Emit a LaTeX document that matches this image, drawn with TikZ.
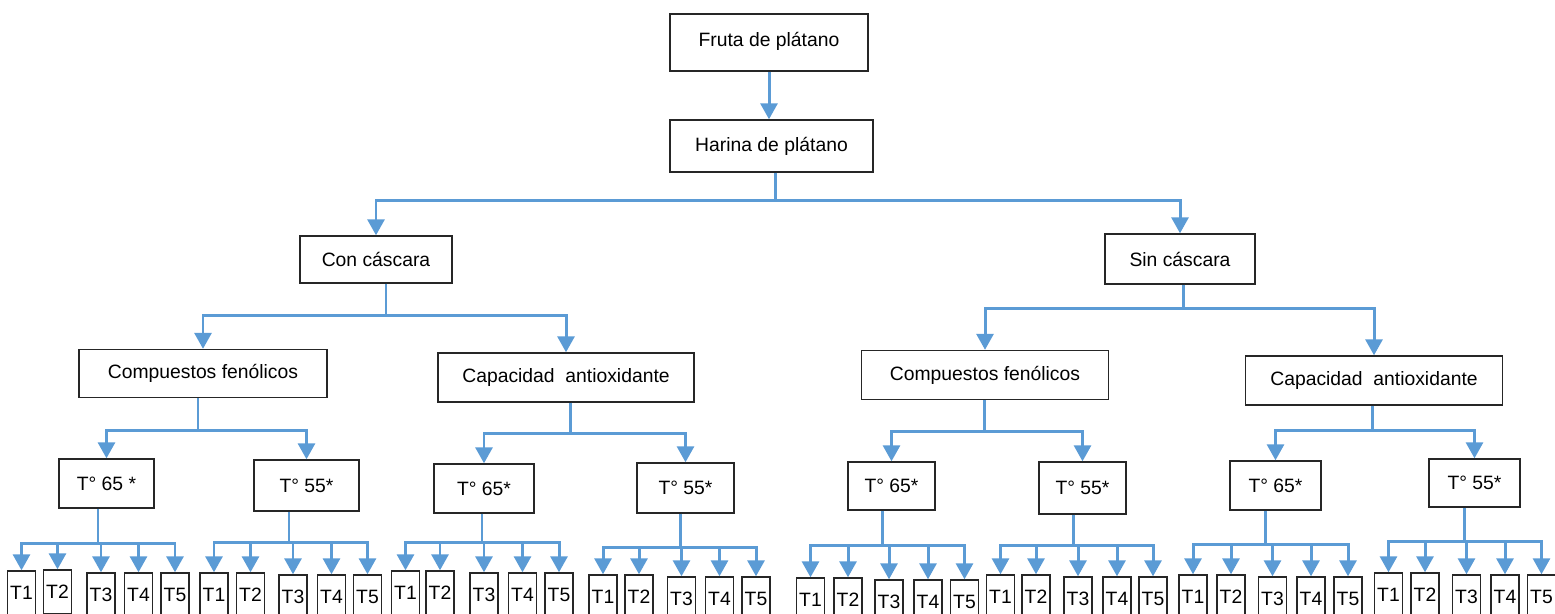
\documentclass[tikz,border=0pt]{standalone}
\usepackage{fontspec}
\setmainfont{Liberation Sans}
\usetikzlibrary{arrows.meta}
\definecolor{linkblue}{HTML}{5B9BD5}
\tikzset{
  box/.style={draw=black!85, line width=0.8pt, font=\fontsize{11}{13}\selectfont, inner sep=0pt},
  leaf/.style={box, minimum width=0.56cm, minimum height=0.88cm},
  link/.style={draw=linkblue, line width=1.7pt},
  arrow/.style={link, -{Triangle[width=0.34cm,length=0.32cm]}}
}
\begin{document}
\begin{tikzpicture}[x=0.02cm, y=-0.02cm]
\useasboundingbox (0,0) rectangle (1555,613);

\node[box, minimum width=3.96cm, minimum height=1.14cm] (fruta) at (769,42.5) {\raisebox{4pt}{Fruta de plátano}\hspace{8pt}};
\node[box, minimum width=4.06cm, minimum height=1.04cm] (harina) at (771.5,146) {Harina de plátano};
\node[box, minimum width=3.04cm, minimum height=0.94cm] (con) at (376,259.5) {Con cáscara};
\node[box, minimum width=3.0cm, minimum height=1.0cm] (sin) at (1180,259) {Sin cáscara};
\node[box, minimum width=4.96cm, minimum height=0.96cm] (cfen) at (203,373.5) {Compuestos fenólicos};
\node[box, minimum width=5.12cm, minimum height=0.98cm] (ccap) at (566,377.5) {Capacidad\ \ antioxidante};
\node[box, minimum width=4.94cm, minimum height=0.98cm] (sfen) at (985,375) {Compuestos fenólicos};
\node[box, minimum width=5.14cm, minimum height=0.98cm] (scap) at (1374,380.5) {Capacidad\ \ antioxidante};

\node[box, minimum width=1.9cm, minimum height=0.98cm] (cf65) at (106.5,483.5) {T° 65 *};
\node[box, minimum width=2.1cm, minimum height=1.02cm] (cf55) at (306.5,485.5) {T° 55*};
\node[box, minimum width=2.0cm, minimum height=0.98cm] (ca65) at (484,488.5) {T° 65*};
\node[box, minimum width=1.94cm, minimum height=1.0cm] (ca55) at (685.5,488) {T° 55*};
\node[box, minimum width=1.74cm, minimum height=0.96cm] (sf65) at (891.5,486) {T° 65*};
\node[box, minimum width=1.74cm, minimum height=1.04cm] (sf55) at (1082.5,488) {T° 55*};
\node[box, minimum width=1.82cm, minimum height=0.98cm] (sa65) at (1275.5,485.5) {T° 65*};
\node[box, minimum width=1.82cm, minimum height=0.96cm] (sa55) at (1474.5,483) {T° 55*};

% leaves
\node[leaf] (cf65t1) at (21.5,593) {T1};
\node[leaf] (cf65t2) at (57.5,592) {T2};
\node[leaf] (cf65t3) at (101,595) {T3};
\node[leaf] (cf65t4) at (138.5,595) {T4};
\node[leaf] (cf65t5) at (175,595) {T5};
\node[leaf] (cf55t1) at (214,595) {T1};
\node[leaf] (cf55t2) at (250.5,595) {T2};
\node[leaf] (cf55t3) at (293,597) {T3};
\node[leaf] (cf55t4) at (331.5,597) {T4};
\node[leaf] (cf55t5) at (367.5,597) {T5};
\node[leaf] (ca65t1) at (405.5,593) {T1};
\node[leaf] (ca65t2) at (440,593) {T2};
\node[leaf] (ca65t3) at (484,595) {T3};
\node[leaf] (ca65t4) at (522.5,595) {T4};
\node[leaf] (ca65t5) at (559,595) {T5};
\node[leaf] (ca55t1) at (603,597) {T1};
\node[leaf] (ca55t2) at (639,597) {T2};
\node[leaf] (ca55t3) at (681.5,599) {T3};
\node[leaf] (ca55t4) at (719.5,599) {T4};
\node[leaf] (ca55t5) at (756,599) {T5};
\node[leaf] (sf65t1) at (810.5,600) {T1};
\node[leaf] (sf65t2) at (848,600) {T2};
\node[leaf] (sf65t3) at (889,602) {T3};
\node[leaf] (sf65t4) at (928,602) {T4};
\node[leaf] (sf65t5) at (964.5,602) {T5};
\node[leaf] (sf55t1) at (1000.5,597) {T1};
\node[leaf] (sf55t2) at (1036,597) {T2};
\node[leaf] (sf55t3) at (1078,599) {T3};
\node[leaf] (sf55t4) at (1117,599) {T4};
\node[leaf] (sf55t5) at (1153,599) {T5};
\node[leaf] (sa65t1) at (1193,597) {T1};
\node[leaf] (sa65t2) at (1231,597) {T2};
\node[leaf] (sa65t3) at (1272.5,599) {T3};
\node[leaf] (sa65t4) at (1311,599) {T4};
\node[leaf] (sa65t5) at (1348,599) {T5};
\node[leaf] (sa55t1) at (1388.5,595) {T1};
\node[leaf] (sa55t2) at (1425,595) {T2};
\node[leaf] (sa55t3) at (1466.5,597) {T3};
\node[leaf] (sa55t4) at (1505,597) {T4};
\node[leaf] (sa55t5) at (1541.5,597) {T5};

% branch points
\coordinate (hb) at (775,200);
\coordinate (conb) at (386,315);
\coordinate (sinb) at (1183,308);
\coordinate (cfenb) at (198,430);
\coordinate (ccapb) at (570,433);
\coordinate (sfenb) at (984,431);
\coordinate (scapb) at (1372,430);
\coordinate (cf65b) at (98,543);
\coordinate (cf55b) at (289,542);
\coordinate (ca65b) at (482,542);
\coordinate (ca55b) at (680,547);
\coordinate (sf65b) at (882,545);
\coordinate (sf55b) at (1073,545);
\coordinate (sa65b) at (1265,544);
\coordinate (sa55b) at (1464,541);

\draw[arrow] (fruta.south) -- (fruta.south |- harina.north);
\draw[link] (harina.south -| hb) -- (hb);
\draw[arrow] (hb) -| (con.north);
\draw[arrow] (hb) -| (sin.north);

\draw[link] (con.south -| conb) -- (conb);
\draw[arrow] (conb) -| (cfen.north);
\draw[arrow] (conb) -| (ccap.north);
\draw[link] (sin.south -| sinb) -- (sinb);
\draw[arrow] (sinb) -| (sfen.north);
\draw[arrow] (sinb) -| (scap.north);

\draw[link] (cfen.south -| cfenb) -- (cfenb);
\draw[arrow] (cfenb) -| (cf65.north);
\draw[arrow] (cfenb) -| (cf55.north);
\draw[link] (ccap.south -| ccapb) -- (ccapb);
\draw[arrow] (ccapb) -| (ca65.north);
\draw[arrow] (ccapb) -| (ca55.north);
\draw[link] (sfen.south -| sfenb) -- (sfenb);
\draw[arrow] (sfenb) -| (sf65.north);
\draw[arrow] (sfenb) -| (sf55.north);
\draw[link] (scap.south -| scapb) -- (scapb);
\draw[arrow] (scapb) -| (sa65.north);
\draw[arrow] (scapb) -| (sa55.north);

\draw[link] (cf65.south -| cf65b) -- (cf65b);
\draw[arrow] (cf65b) -| (cf65t1.north);
\draw[arrow] (cf65b) -| (cf65t2.north);
\draw[arrow] (cf65b) -| (cf65t3.north);
\draw[arrow] (cf65b) -| (cf65t4.north);
\draw[arrow] (cf65b) -| (cf65t5.north);
\draw[link] (cf55.south -| cf55b) -- (cf55b);
\draw[arrow] (cf55b) -| (cf55t1.north);
\draw[arrow] (cf55b) -| (cf55t2.north);
\draw[arrow] (cf55b) -| (cf55t3.north);
\draw[arrow] (cf55b) -| (cf55t4.north);
\draw[arrow] (cf55b) -| (cf55t5.north);
\draw[link] (ca65.south -| ca65b) -- (ca65b);
\draw[arrow] (ca65b) -| (ca65t1.north);
\draw[arrow] (ca65b) -| (ca65t2.north);
\draw[arrow] (ca65b) -| (ca65t3.north);
\draw[arrow] (ca65b) -| (ca65t4.north);
\draw[arrow] (ca65b) -| (ca65t5.north);
\draw[link] (ca55.south -| ca55b) -- (ca55b);
\draw[arrow] (ca55b) -| (ca55t1.north);
\draw[arrow] (ca55b) -| (ca55t2.north);
\draw[arrow] (ca55b) -| (ca55t3.north);
\draw[arrow] (ca55b) -| (ca55t4.north);
\draw[arrow] (ca55b) -| (ca55t5.north);
\draw[link] (sf65.south -| sf65b) -- (sf65b);
\draw[arrow] (sf65b) -| (sf65t1.north);
\draw[arrow] (sf65b) -| (sf65t2.north);
\draw[arrow] (sf65b) -| (sf65t3.north);
\draw[arrow] (sf65b) -| (sf65t4.north);
\draw[arrow] (sf65b) -| (sf65t5.north);
\draw[link] (sf55.south -| sf55b) -- (sf55b);
\draw[arrow] (sf55b) -| (sf55t1.north);
\draw[arrow] (sf55b) -| (sf55t2.north);
\draw[arrow] (sf55b) -| (sf55t3.north);
\draw[arrow] (sf55b) -| (sf55t4.north);
\draw[arrow] (sf55b) -| (sf55t5.north);
\draw[link] (sa65.south -| sa65b) -- (sa65b);
\draw[arrow] (sa65b) -| (sa65t1.north);
\draw[arrow] (sa65b) -| (sa65t2.north);
\draw[arrow] (sa65b) -| (sa65t3.north);
\draw[arrow] (sa65b) -| (sa65t4.north);
\draw[arrow] (sa65b) -| (sa65t5.north);
\draw[link] (sa55.south -| sa55b) -- (sa55b);
\draw[arrow] (sa55b) -| (sa55t1.north);
\draw[arrow] (sa55b) -| (sa55t2.north);
\draw[arrow] (sa55b) -| (sa55t3.north);
\draw[arrow] (sa55b) -| (sa55t4.north);
\draw[arrow] (sa55b) -| (sa55t5.north);
\end{tikzpicture}
\end{document}
